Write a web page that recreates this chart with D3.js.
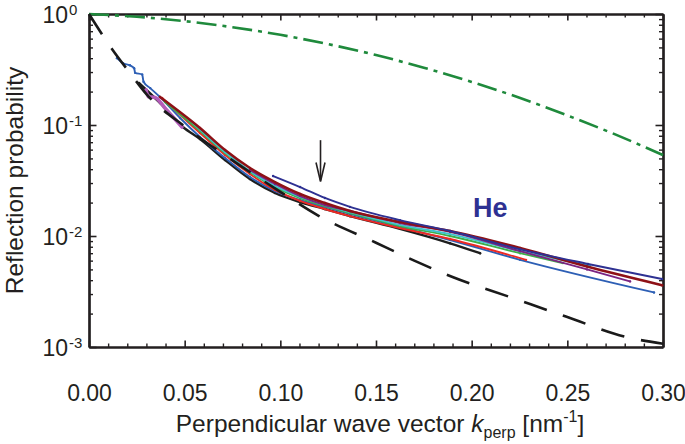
<!DOCTYPE html>
<html><head><meta charset="utf-8">
<script src="https://cdn.jsdelivr.net/npm/d3@7"></script>
<style>
body{margin:0;background:#fff}
svg{display:block}
text{font-family:"Liberation Sans",Arial,Helvetica,sans-serif}
</style>
</head><body>
<svg id="c" width="685" height="444"></svg>
<script>
// ---------- data ----------
const xMajorTicks = [0, 0.05, 0.10, 0.15, 0.20, 0.25, 0.30];
const xTickLabels = ["0.00", "0.05", "0.10", "0.15", "0.20", "0.25", "0.30"];
const yMajorTicks = [1, 0.1, 0.01, 0.001];
const yTickExponents = ["0", "-1", "-2", "-3"];

// black dashed reference curve [k, R]
const dashedCurve = [[0,1],[0.012,0.484],[0.0214,0.294],[0.03,0.19],[0.05,0.097],[0.075,0.048],
  [0.10,0.025],[0.12,0.0152],[0.15,0.0087],[0.17,0.0060],[0.19,0.00427],[0.22,0.00282],
  [0.25,0.00186],[0.28,0.00124],[0.30,0.00107]];
// green dash-dot curve [k, R]
const greenCurve = [[0,1],[0.025,0.944],[0.05,0.862],[0.075,0.760],[0.10,0.649],[0.125,0.535],
  [0.15,0.427],[0.175,0.328],[0.20,0.244],[0.225,0.176],[0.25,0.122],[0.275,0.0823],[0.30,0.0535]];

// measured He curves [k, R]
const seriesBlue = [[0.0146,0.40],[0.0178,0.36],[0.0214,0.345],[0.0236,0.325],[0.0241,0.295],[0.0278,0.285],
  [0.0285,0.245],[0.032,0.215],[0.037,0.179],[0.0476,0.1156],[0.058,0.078],[0.0711,0.0504],[0.0841,0.0340],
  [0.0972,0.0254],[0.1103,0.0211],[0.1233,0.0183],[0.1364,0.0158],[0.1625,0.0121],[0.1887,0.0092],
  [0.2253,0.0061],[0.2953,0.0031]];
const seriesNavy = [[0.0962,0.0347],[0.1103,0.0276],[0.1233,0.0220],[0.1364,0.0183],[0.1625,0.0139],
  [0.1887,0.0111],[0.2253,0.0076],[0.2608,0.0056],[0.2995,0.0041]];
const seriesDarkRed = [[0.0371,0.179],[0.058,0.094],[0.0711,0.0595],[0.0841,0.0410],[0.0972,0.0306],
  [0.1103,0.0239],[0.1233,0.0198],[0.1364,0.0168],[0.1625,0.0134],[0.1887,0.0111],[0.2253,0.0078],
  [0.2603,0.0053],[0.2995,0.0036]];
const seriesPurple = [[0.0841,0.0393],[0.0972,0.0294],[0.1103,0.0229],[0.1233,0.0190],[0.1364,0.0168],
  [0.1625,0.0131],[0.1887,0.0109],[0.2253,0.0073],[0.2603,0.0050],[0.2828,0.0039]];
const seriesCyan = [[0.0528,0.111],[0.0711,0.0571],[0.0841,0.0385],[0.0972,0.0282],[0.1103,0.0225],
  [0.1233,0.0190],[0.1364,0.0164],[0.1625,0.0126],[0.1887,0.0104],[0.2253,0.0073],[0.2618,0.0054]];
const seriesGreen = [[0.0397,0.161],[0.058,0.0883],[0.0711,0.0559],[0.0841,0.0377],[0.0972,0.0276],
  [0.1103,0.0220],[0.1233,0.0186],[0.1364,0.0161],[0.1625,0.0123],[0.1887,0.0100],[0.2253,0.0070],[0.2477,0.0057]];
const seriesRed = [[0.0382,0.175],[0.058,0.0847],[0.0711,0.0537],[0.0841,0.0362],[0.0972,0.0260],
  [0.1103,0.0207],[0.1233,0.0175],[0.1364,0.0151],[0.1625,0.0118],[0.1887,0.0094],[0.2284,0.0061]];
const seriesBlack = [[0.0261,0.239],[0.0371,0.158],[0.0491,0.0959],[0.058,0.0748],[0.0711,0.0484],
  [0.0841,0.0326],[0.0972,0.0244],[0.1103,0.0202],[0.1233,0.0175],[0.1364,0.0151],[0.1625,0.0116],
  [0.1887,0.0086],[0.2044,0.0070]];
const seriesPink = [[0.0298,0.207],[0.031,0.18],[0.0345,0.177],[0.040,0.14],[0.0486,0.096]];

const arrowK = 0.121, arrowFrom = 0.073, arrowTo = 0.031;
const heLabel = {text: "He"};

// ---------- drawing ----------
const ink = "#231f20";
const svg = d3.select("#c");
const L = 89, R = 663, T = 14, B = 347;
const x = d3.scaleLinear().domain([0, 0.30]).range([L, R]);
const y = d3.scaleLog().domain([1, 0.001]).range([T, B]);

const xMinor = d3.range(0, 31).map(i => i / 100).filter(v => Math.round(v*100) % 5 !== 0);
const yMinor = [];
[1, 0.1, 0.01].forEach(d => { for (let m = 2; m <= 9; m++) yMinor.push(m * d / 10); });

function styleAxis(g, w) {
  g.selectAll(".domain").attr("stroke", ink).attr("stroke-width", 2.2);
  g.selectAll(".tick line").attr("stroke", ink).attr("stroke-width", w);
}
// minor ticks
[[d3.axisBottom(x), `translate(0,${B})`], [d3.axisTop(x), `translate(0,${T})`]].forEach(([ax, tr]) => {
  svg.append("g").attr("transform", tr)
    .call(ax.tickValues(xMinor).tickSizeInner(-3.5).tickSizeOuter(0).tickFormat(""))
    .call(g => styleAxis(g, 1.4));
});
[[d3.axisLeft(y), `translate(${L},0)`], [d3.axisRight(y), `translate(${R},0)`]].forEach(([ax, tr]) => {
  svg.append("g").attr("transform", tr)
    .call(ax.tickValues(yMinor).tickSizeInner(-4).tickSizeOuter(0).tickFormat(""))
    .call(g => styleAxis(g, 1.4));
});
// major ticks
const gxb = svg.append("g").attr("transform", `translate(0,${B})`)
  .call(d3.axisBottom(x).tickValues(xMajorTicks).tickSizeInner(-6.5).tickSizeOuter(0)
    .tickPadding(38).tickFormat((d, i) => xTickLabels[i]))
  .call(g => styleAxis(g, 1.6));
gxb.selectAll("text").attr("fill", ink).attr("font-size", 23).attr("font-family", "Liberation Sans, Arial, sans-serif");
svg.append("g").attr("transform", `translate(0,${T})`)
  .call(d3.axisTop(x).tickValues(xMajorTicks).tickSizeInner(-6.5).tickSizeOuter(0).tickFormat(""))
  .call(g => styleAxis(g, 1.6));
svg.append("g").attr("transform", `translate(${L},0)`)
  .call(d3.axisLeft(y).tickValues(yMajorTicks).tickSizeInner(-7.5).tickSizeOuter(0).tickFormat(""))
  .call(g => styleAxis(g, 1.6));
svg.append("g").attr("transform", `translate(${R},0)`)
  .call(d3.axisRight(y).tickValues(yMajorTicks).tickSizeInner(-7.5).tickSizeOuter(0).tickFormat(""))
  .call(g => styleAxis(g, 1.6));

// y tick labels 10^n
yMajorTicks.forEach((v, i) => {
  svg.append("text").attr("x", 68).attr("y", y(v) + 8.5)
    .attr("text-anchor", "end").attr("fill", ink).attr("font-size", 23).text("10");
  svg.append("text").attr("x", 69).attr("y", y(v) + 0.5)
    .attr("fill", ink).attr("font-size", 15).text(yTickExponents[i]);
});

// axis titles
svg.append("text").attr("transform", `translate(22.5,${(T + B) / 2}) rotate(-90)`)
  .attr("text-anchor", "middle").attr("fill", ink).attr("font-size", 24.5)
  .text("Reflection probability");
const xt = svg.append("text").attr("x", (L + R) / 2 + 4).attr("y", 432)
  .attr("text-anchor", "middle").attr("fill", ink).attr("font-size", 24.5);
xt.append("tspan").text("Perpendicular wave vector ");
xt.append("tspan").attr("font-style", "italic").text("k");
xt.append("tspan").attr("font-size", 16).attr("dy", 6).text("perp");
xt.append("tspan").attr("dy", -6).text(" [nm");
xt.append("tspan").attr("font-size", 16).attr("dy", -10).text("-1");
xt.append("tspan").attr("dy", 10).text("]");

// curves
const line = d3.line().x(d => x(d[0])).y(d => y(d[1])).curve(d3.curveMonotoneX);

svg.append("path").datum(greenCurve).attr("d", line).attr("fill", "none")
  .attr("stroke", "#1f8a3c").attr("stroke-width", 2.6).attr("stroke-dasharray", "20,6,4,6");

const measured = [
  {pts: seriesBlack, c: "#1e1e1e", w: 2.4},
  {pts: seriesBlue, c: "#2d5fb5", w: 1.9},
  {pts: seriesRed, c: "#ec2a24", w: 1.9},
  {pts: seriesGreen, c: "#3fae49", w: 1.9},
  {pts: seriesCyan, c: "#3ec3cc", w: 1.9},
  {pts: seriesPurple, c: "#7a2482", w: 1.9},
  {pts: seriesDarkRed, c: "#8e1116", w: 2.6},
  {pts: seriesNavy, c: "#2e3192", w: 1.9},
  {pts: seriesPink, c: "#b45cb9", w: 3.6}
];
measured.forEach(s => {
  svg.append("path").datum(s.pts).attr("d", line).attr("fill", "none")
    .attr("stroke", s.c).attr("stroke-width", s.w).attr("stroke-linejoin", "round").attr("stroke-linecap", "round");
  svg.append("g").selectAll("circle").data(s.pts).join("circle")
    .attr("cx", d => x(d[0])).attr("cy", d => y(d[1])).attr("r", 1.2).attr("fill", s.c);
});

svg.append("path").datum(dashedCurve).attr("d", line).attr("fill", "none")
  .attr("stroke", "#1a1a1a").attr("stroke-width", 2.6).attr("stroke-dasharray", "24,17");

// arrow
const ax0 = x(arrowK), ay0 = y(arrowFrom), ay1 = y(arrowTo);
svg.append("line").attr("x1", ax0).attr("x2", ax0).attr("y1", ay0).attr("y2", ay1 - 1)
  .attr("stroke", ink).attr("stroke-width", 1.6);
svg.append("path").attr("d", `M${ax0 - 4.5},${ay1 - 19} L${ax0},${ay1} L${ax0 + 4.5},${ay1 - 19}`)
  .attr("fill", "none").attr("stroke", ink).attr("stroke-width", 1.6);

// He label
svg.append("text").attr("x", 473).attr("y", 217).attr("font-size", 27).attr("font-weight", "bold")
  .attr("fill", "#2e3192").text(heLabel.text);
</script>
</body></html>
